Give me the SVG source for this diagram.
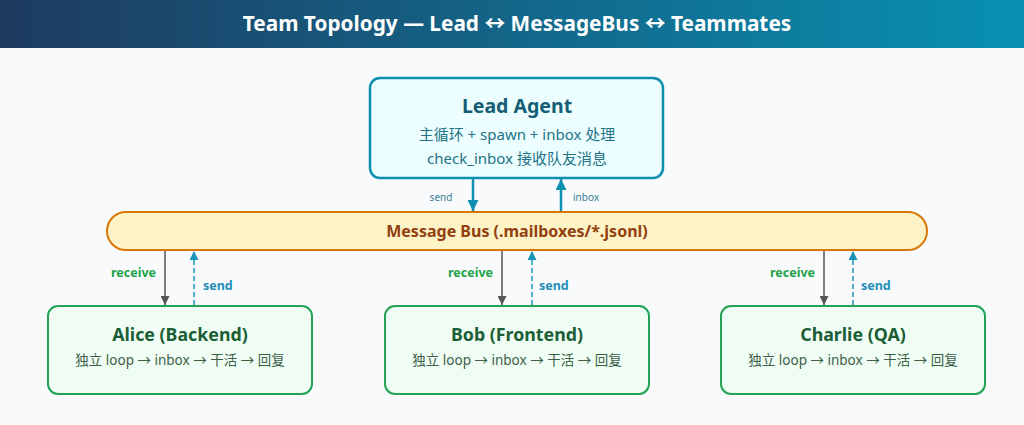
<svg xmlns="http://www.w3.org/2000/svg" width="1024" height="425" viewBox="0 0 1024 425">
<defs>
<linearGradient id="hdr" x1="0" y1="0" x2="1" y2="0">
<stop offset="0" stop-color="#1e3a5f"/>
<stop offset="1" stop-color="#0891b2"/>
</linearGradient>
<marker id="aTeal" viewBox="0 0 10 10" refX="10" refY="5" markerWidth="4.4" markerHeight="4.4" orient="auto" markerUnits="strokeWidth"><path d="M0,0 L10,5 L0,10 z" fill="#0e8fb0"/></marker>
<marker id="aGray" viewBox="0 0 10 10" refX="10" refY="5" markerWidth="6" markerHeight="6" orient="auto" markerUnits="strokeWidth"><path d="M0,0 L10,5 L0,10 z" fill="#555"/></marker>
<marker id="aSend" viewBox="0 0 10 10" refX="10" refY="5" markerWidth="6" markerHeight="6" orient="auto" markerUnits="strokeWidth"><path d="M0,0 L10,5 L0,10 z" fill="#1a93b8"/></marker>
</defs>
<style>
text{font-family:"Noto Sans","Open Sans","Noto Sans CJK SC",sans-serif}
.title{font-size:20.8px;font-weight:700;fill:#fff}
.lead{fill:#ecfeff;stroke:#0e8fb0;stroke-width:2.5}
.leadT{font-size:19.5px;font-weight:700;fill:#155e75}
.leadS{font-size:15px;fill:#237486}
.small{font-size:10px;fill:#3a7f95}
.bus{fill:#fef3c7;stroke:#d97706;stroke-width:2}
.busT{font-size:16px;font-weight:700;fill:#92400e}
.mate{fill:#f0fdf4;stroke:#22a355;stroke-width:2}
.mateT{font-size:17.8px;font-weight:700;fill:#1c5e36}
.mateS{font-size:13.5px;fill:#3d5f48}
.rcv{font-size:12.5px;font-weight:700;fill:#22a34a}
.snd{font-size:12.5px;font-weight:700;fill:#1f8fb5}
.lt{stroke:#0e8fb0;stroke-width:2.5;fill:none}
.lg{stroke:#555;stroke-width:1.5;fill:none}
.ls{stroke:#1a93b8;stroke-width:1.5;stroke-dasharray:5,3;fill:none}
</style>
<rect x="0" y="0" width="1024" height="425" fill="#f8fafc"/>
<rect x="0" y="0" width="1024" height="48" fill="url(#hdr)"/>
<text class="title" x="517" y="31" text-anchor="middle">Team Topology — Lead ↔ MessageBus ↔ Teammates</text>

<g id="connectors">
<line class="lt" x1="473" y1="179" x2="473" y2="211" marker-end="url(#aTeal)"/>
<line class="lt" x1="561" y1="211" x2="561" y2="179" marker-end="url(#aTeal)"/>
<text class="small" x="441" y="201" text-anchor="middle">send</text>
<text class="small" x="586" y="201" text-anchor="middle">inbox</text>

<line class="lg" x1="165" y1="251" x2="165" y2="305" marker-end="url(#aGray)"/>
<line class="ls" x1="194" y1="305" x2="194" y2="251" marker-end="url(#aSend)"/>
<text class="rcv" x="156" y="277" text-anchor="end">receive</text>
<text class="snd" x="203" y="290">send</text>

<line class="lg" x1="502" y1="251" x2="502" y2="305" marker-end="url(#aGray)"/>
<line class="ls" x1="532" y1="305" x2="532" y2="251" marker-end="url(#aSend)"/>
<text class="rcv" x="493" y="277" text-anchor="end">receive</text>
<text class="snd" x="539" y="290">send</text>

<line class="lg" x1="824" y1="251" x2="824" y2="305" marker-end="url(#aGray)"/>
<line class="ls" x1="853" y1="305" x2="853" y2="251" marker-end="url(#aSend)"/>
<text class="rcv" x="815" y="277" text-anchor="end">receive</text>
<text class="snd" x="861" y="290">send</text>
</g>

<g id="lead">
<rect class="lead" x="370" y="78" width="293" height="100" rx="10"/>
<text class="leadT" x="517" y="113" text-anchor="middle">Lead Agent</text>
<text class="leadS" x="517" y="140" text-anchor="middle">主循环 + spawn + inbox 处理</text>
<text class="leadS" x="517" y="164" text-anchor="middle">check_inbox 接收队友消息</text>
</g>

<g id="bus">
<rect class="bus" x="107" y="212" width="820" height="38" rx="19"/>
<text class="busT" x="517" y="237" text-anchor="middle">Message Bus (.mailboxes/*.jsonl)</text>
</g>

<g id="alice">
<rect class="mate" x="48" y="306" width="264" height="88" rx="10"/>
<text class="mateT" x="180" y="341" text-anchor="middle">Alice (Backend)</text>
<text class="mateS" x="180" y="365" text-anchor="middle">独立 loop → inbox → 干活 → 回复</text>
</g>

<g id="bob">
<rect class="mate" x="385" y="306" width="264" height="88" rx="10"/>
<text class="mateT" x="517" y="341" text-anchor="middle">Bob (Frontend)</text>
<text class="mateS" x="517" y="365" text-anchor="middle">独立 loop → inbox → 干活 → 回复</text>
</g>

<g id="charlie">
<rect class="mate" x="721" y="306" width="264" height="88" rx="10"/>
<text class="mateT" x="853" y="341" text-anchor="middle">Charlie (QA)</text>
<text class="mateS" x="853" y="365" text-anchor="middle">独立 loop → inbox → 干活 → 回复</text>
</g>
</svg>
